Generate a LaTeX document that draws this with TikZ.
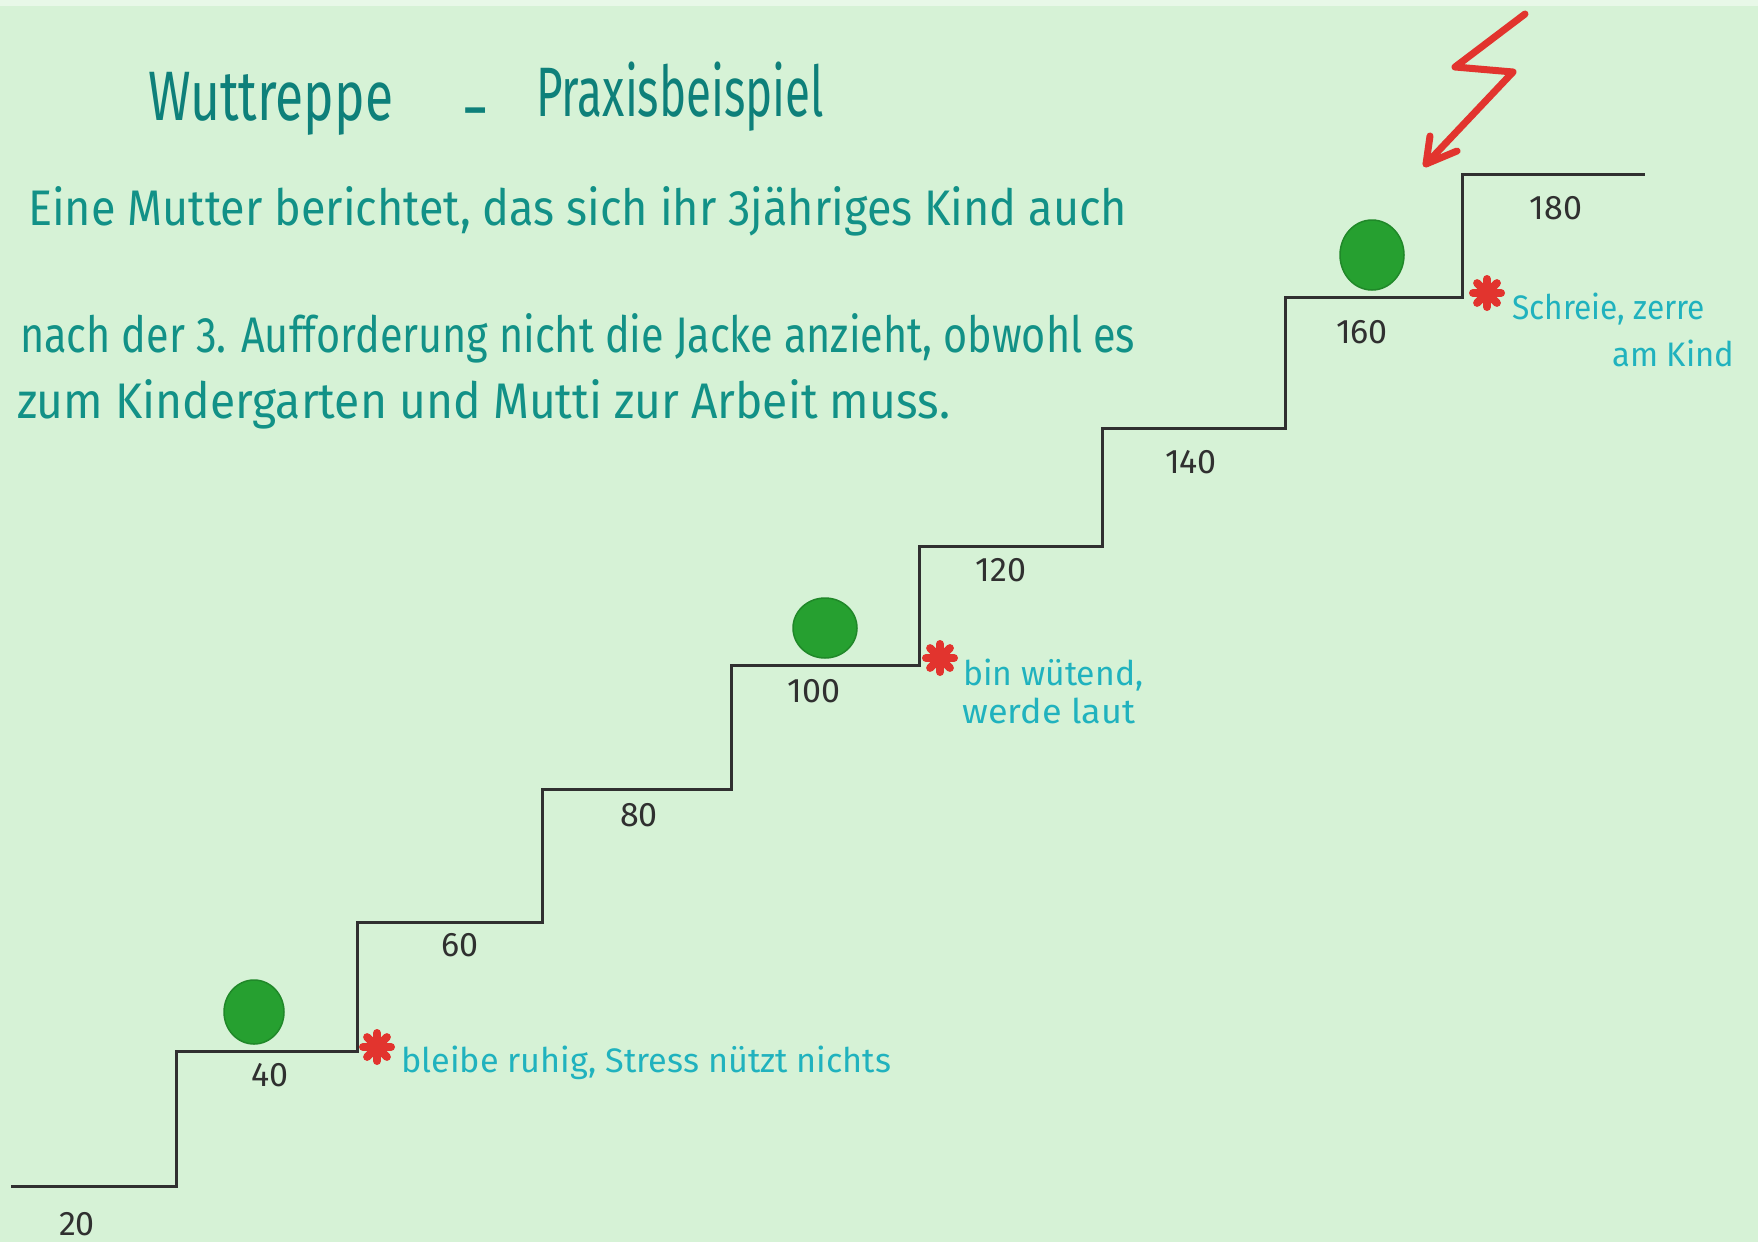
\documentclass[tikz,border=0pt]{standalone}
\usepackage{fontspec}
\setmainfont{Fira Sans}
\usetikzlibrary{shapes.geometric,calc}
\definecolor{paper}{RGB}{214,242,214}
\definecolor{paperlight}{RGB}{232,248,232}
\definecolor{ink}{RGB}{18,145,135}
\definecolor{titleink}{RGB}{14,128,122}
\definecolor{cyanink}{RGB}{32,178,190}
\definecolor{dotgreen}{RGB}{38,160,48}
\definecolor{redmark}{RGB}{226,52,46}
\definecolor{stairink}{RGB}{48,48,48}
\newcommand\hwfit[2]{\resizebox{#1pt}{\height}{#2}}
\begin{document}
\begin{tikzpicture}[x=1pt,y=-1pt,
  para/.style={anchor=base west, inner sep=0, text=ink, font=\fontsize{50}{60}\selectfont},
  titletext/.style={anchor=base west, inner sep=0, text=titleink, font=\fontsize{70}{84}\selectfont},
  note/.style={anchor=base west, inner sep=0, text=cyanink, font=\fontsize{34}{40}\selectfont},
  num/.style={inner sep=0, text=stairink, font=\fontsize{34}{40}\selectfont},
  dot/.style={ellipse, fill=dotgreen, draw=dotgreen!85!black, line width=1.5, inner sep=0},
  stair/.style={draw=stairink, line width=3, line join=miter},
  bolt/.style={draw=redmark, line width=7, line cap=round, line join=round},
  starline/.style={draw=redmark, line width=8, line cap=round}]
\useasboundingbox (0,0) rectangle (1758,1242);
\fill[paper] (0,0) rectangle (1758,1242);
\fill[paperlight] (0,0) rectangle (1758,6);

% title
\node[titletext] (t1) at (148,120) {\hwfit{245}{Wuttreppe}};
\node[titletext] (tdash) at (461,132) {-};
\node[titletext] (t2) at (536,116) {\hwfit{288}{Praxisbeispiel}};

% paragraph
\node[para] (p1) at (28,225) {\hwfit{1099}{Eine Mutter berichtet, das sich ihr 3jähriges Kind auch}};
\node[para] (p2) at (20,352) {\hwfit{1115}{nach der 3. Aufforderung nicht die Jacke anzieht, obwohl es}};
\node[para] (p3) at (17,418) {\hwfit{933}{zum Kindergarten und Mutti zur Arbeit muss.}};

% staircase
\coordinate (s0) at (11,1186);
\coordinate (s1) at (176,1186);
\coordinate (s2) at (176,1051);
\coordinate (s3) at (357,1051);
\coordinate (s4) at (357,922);
\coordinate (s5) at (542,922);
\coordinate (s6) at (542,789);
\coordinate (s7) at (731,789);
\coordinate (s8) at (731,665);
\coordinate (s9) at (919,665);
\coordinate (s10) at (919,546);
\coordinate (s11) at (1102,546);
\coordinate (s12) at (1102,428);
\coordinate (s13) at (1285,428);
\coordinate (s14) at (1285,297);
\coordinate (s15) at (1462,297);
\coordinate (s16) at (1462,174);
\coordinate (s17) at (1645,174);
\draw[stair] (s0) -- (s1) -- (s2) -- (s3) -- (s4) -- (s5) -- (s6) -- (s7) -- (s8)
  -- (s9) -- (s10) -- (s11) -- (s12) -- (s13) -- (s14) -- (s15) -- (s16) -- (s17);

% step numbers
\node[num] (n20) at (77,1224) {20};
\node[num] (n40) at (270,1075) {40};
\node[num] (n60) at (460,945) {60};
\node[num] (n80) at (639,815) {80};
\node[num] (n100) at (814,691) {100};
\node[num] (n120) at (1001,570) {120};
\node[num] (n140) at (1191,462) {140};
\node[num] (n160) at (1362,332) {160};
\node[num] (n180) at (1556,208) {180};

% green dots
\node[dot, minimum width=60, minimum height=64] (d1) at (254,1012) {};
\node[dot, minimum width=64, minimum height=60] (d2) at (825,628) {};
\node[dot, minimum width=64, minimum height=70] (d3) at (1372,255) {};

% red marks
\foreach \cx/\cy/\nm in {377/1047/r1, 940/658/r2, 1487/293/r3}{
  \coordinate (\nm) at (\cx,\cy);
  \fill[redmark] (\nm) circle (8);
  \foreach \a in {0,45,90,135}{
    \draw[starline] ($(\nm)+(\a:14)$) -- ($(\nm)+(\a+180:14)$);
  }
}

% annotations
\node[note] (a1) at (401,1072) {\hwfit{490}{bleibe ruhig, Stress nützt nichts}};
\node[note] (a2) at (963,685) {\hwfit{180}{bin wütend,}};
\node[note] (a3) at (962,723) {\hwfit{173}{werde laut}};
\node[note] (a4) at (1512,319) {\hwfit{193}{Schreie, zerre}};
\node[note] (a5) at (1612,366) {\hwfit{122}{am Kind}};

% lightning
\coordinate (b0) at (1525,14);
\coordinate (b1) at (1455,67);
\coordinate (b2) at (1513,72);
\coordinate (b3) at (1426,164);
\coordinate (bl) at (1430,136);
\coordinate (br) at (1457,151);
\draw[bolt] (b0) -- (b1) -- (b2) -- (b3);
\draw[bolt] (bl) -- (b3) -- (br);
\end{tikzpicture}
\end{document}
